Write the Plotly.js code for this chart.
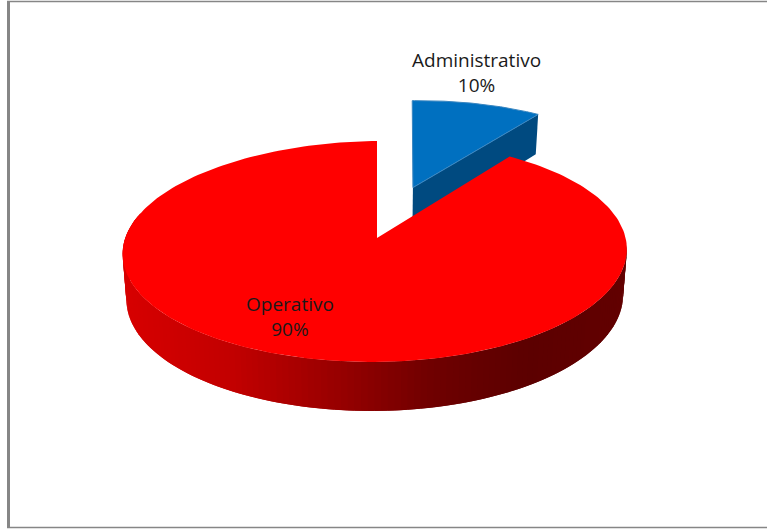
<!DOCTYPE html>
<html>
<head>
<meta charset="utf-8">
<script src="https://cdn.plot.ly/plotly-3.0.1.min.js"></script>
<style>html,body{margin:0;padding:0;background:#fff}#chart{width:767px;height:529px}</style>
</head>
<body>
<div id="chart"></div>
<script>
// Personnel share by area
const categories = ['Administrativo', 'Operativo'];
const shares = [10, 90];

// Colours of the two slices
const topColors = ['#0070c0', '#ff0000'];
const edgeColor = '#004a80';

// Shading of the red rim, left to right across the disc
const rimStops = [0, 0.21, 0.41, 0.61, 0.71, 0.81, 1];
const rimReds = [215, 195, 155, 112, 100, 92, 98];

// Perspective view of the disc
const view = {cx: 377, cy: 238, xRight: 248, xLeft: 252.5, yScale: 108.8, persp: 0.122, roll: -2.5};
const explode = 0.512;
const blueLean = 3;
const steps = 60;

function project(u, v) {
  const d = 1 + view.persp * v;
  const a = u >= 0 ? view.xRight : view.xLeft;
  return [view.cx + a * u / d, view.cy - view.yScale * v / d + view.roll * u];
}
// Same point on the underside of the disc
function lower(u, v) {
  const p = project(u, v);
  return [view.cx + (p[0] - view.cx) * 0.985, p[1] + 45 - 4 * v];
}
const rad = f => f * 2 * Math.PI;

function rimRed(x) {
  const t = Math.max(0, Math.min(1, (x - 123) / 503));
  let i = 0;
  while (i < rimStops.length - 2 && t > rimStops[i + 1]) i++;
  const k = (t - rimStops[i]) / (rimStops[i + 1] - rimStops[i]);
  return Math.round(rimReds[i] + k * (rimReds[i + 1] - rimReds[i]));
}
function poly(pts, color, line) {
  return {
    type: 'scatter', mode: 'lines', fill: 'toself', fillcolor: color,
    x: pts.map(p => p[0]), y: pts.map(p => p[1]),
    line: line || {width: 0, color: color}, hoverinfo: 'skip', showlegend: false
  };
}

const traces = [];
const total = shares[0] + shares[1];
const endBlue = shares[0] / total;

// Pulled-out slice: top face and visible cut face
const midBlue = rad(endBlue / 2);
const ou = 0.97 * explode * Math.sin(midBlue), ov = explode * Math.cos(midBlue);
const lean = (p, v) => [p[0] + blueLean * (v - ov), p[1]];
const cornerU = ou + Math.sin(rad(endBlue)), cornerV = ov + Math.cos(rad(endBlue));
traces.push(poly([
  project(ou, ov),
  lean(project(cornerU, cornerV), cornerV),
  lean(lower(cornerU, cornerV), cornerV),
  lower(ou, ov)
], edgeColor));
const bluePts = [project(ou, ov)];
for (let i = 0; i <= steps; i++) {
  const a = rad(endBlue * i / steps);
  const v = ov + Math.cos(a);
  bluePts.push(lean(project(ou + Math.sin(a), v), v));
}
bluePts.push(project(ou, ov));
traces.push(poly(bluePts, topColors[0], {width: 1, color: '#3a86c0'}));

// Rim of the large slice, one shaded band per step, left to right
const rimN = 140;
const rimAngle = i => (285 - 190 * i / rimN) * Math.PI / 180;
for (let i = 0; i < rimN; i++) {
  const a0 = rimAngle(i), a1 = rimAngle(Math.min(rimN, i + 2)), am = rimAngle(i + 0.5);
  const xm = project(Math.sin(am), Math.cos(am))[0];
  const pts = [
    project(Math.sin(a0), Math.cos(a0)), project(Math.sin(a1), Math.cos(a1)),
    lower(Math.sin(a1), Math.cos(a1)), lower(Math.sin(a0), Math.cos(a0))
  ];
  traces.push(poly(pts, `rgb(${rimRed(xm)},0,0)`));
}

// Top face of the large slice
const redPts = [project(0, 0)];
for (let i = 0; i <= 240; i++) {
  const a = rad(endBlue + (1 - endBlue) * i / 240);
  redPts.push(project(Math.sin(a), Math.cos(a)));
}
redPts.push(project(0, 0));
traces.push(poly(redPts, topColors[1]));

// Two-line labels, name above percentage
const labelFont = {family: '"Open Sans", sans-serif', size: 19, color: '#1a1a1a'};
const annotations = [
  {x: 476, y: 72, text: categories[0] + '<br>' + shares[0] + '%'},
  {x: 290, y: 316, text: categories[1] + '<br>' + shares[1] + '%'}
].map(a => Object.assign(a, {xref: 'x', yref: 'y', showarrow: false, font: labelFont, align: 'center'}));

// Chart frame: open on the right, heavier on the left
const frameLine = (x0, y0, x1, y1, width) => ({type: 'line', xref: 'x', yref: 'y', x0, y0, x1, y1, line: {color: '#868686', width}});
const frame = [
  frameLine(8.5, 1, 8.5, 528, 3),
  frameLine(7, 1.6, 767, 1.6, 1.5),
  frameLine(7, 527.6, 767, 527.6, 1.5)
];

Plotly.newPlot('chart', traces, {
  width: 767, height: 529,
  margin: {l: 0, r: 0, t: 0, b: 0},
  paper_bgcolor: '#fff', plot_bgcolor: '#fff',
  showlegend: false, hovermode: false,
  xaxis: {range: [0, 767], visible: false, fixedrange: true},
  yaxis: {range: [529, 0], visible: false, fixedrange: true},
  shapes: frame,
  annotations: annotations
}, {displayModeBar: false, staticPlot: true});
</script>
</body>
</html>
